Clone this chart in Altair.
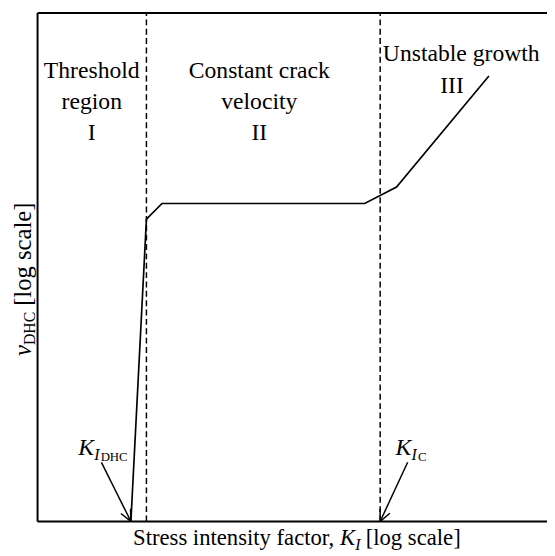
import altair as alt
import pandas as pd
import numpy as np

# Schematic DHC crack-velocity curve, log-log, arbitrary units (0-10 on both axes)
curve_k = [1.832, 2.137, 2.443, 6.422, 7.046, 8.859]
curve_v = [0.0, 5.944, 6.253, 6.253, 6.576, 8.762]

# Region boundaries: K_I,DHC and K_IC
boundary_k = [2.137, 6.725]

# Arrows pointing to K_I,DHC and K_IC on the axis
arrow_tail_k = [1.253, 7.265]
arrow_tail_v = [1.163, 1.163]
arrow_tip_k = [1.832, 6.725]
arrow_tip_v = [0.0, 0.0]

# Region annotation text
region_text = ["Threshold", "region", "I",
               "Constant crack", "velocity", "II",
               "Unstable growth", "III"]
region_k = [1.064, 1.064, 1.064, 4.352, 4.352, 4.352, 8.317, 8.135]
region_v = [8.723, 8.104, 7.505, 8.723, 8.104, 7.505, 9.052, 8.433]

FONT = "Liberation Serif, Times New Roman, serif"

xs = alt.Scale(domain=[0, 10], nice=False, zero=False)
ys = alt.Scale(domain=[0, 10], nice=False, zero=False)

hidden = alt.Axis(domain=False, ticks=False, labels=False, grid=False, title=None)
X = lambda f: alt.X(f, scale=xs, axis=hidden)
Y = lambda f: alt.Y(f, scale=ys, axis=hidden)

curve_df = pd.DataFrame({"k": curve_k, "v": curve_v})
curve = alt.Chart(curve_df).mark_line(color="black", strokeWidth=1.7).encode(
    x=X("k:Q"), y=Y("v:Q"),
)

bound_df = pd.DataFrame({"k": boundary_k, "v": [0, 0], "v2": [10, 10]})
bounds = alt.Chart(bound_df).mark_rule(
    color="black", strokeWidth=1.5, strokeDash=[6, 3.5]
).encode(x=X("k:Q"), y=Y("v:Q"), y2="v2:Q")

# Frame: left, bottom and top edges (the right edge lies outside the picture)
frame_df = pd.DataFrame({"k": [0, 0, 0], "v": [0, 0, 10],
                         "k2": [0, 10.5, 10.5], "v2": [10, 0, 10]})
frame = alt.Chart(frame_df).mark_rule(color="black", strokeWidth=2).encode(
    x=X("k:Q"), y=Y("v:Q"), x2="k2:Q", y2="v2:Q"
)

adf = pd.DataFrame({"k": arrow_tail_k, "v": arrow_tail_v,
                    "k2": arrow_tip_k, "v2": arrow_tip_v})
shafts = alt.Chart(adf).mark_rule(color="black", strokeWidth=1.5).encode(
    x=X("k:Q"), y=Y("v:Q"), x2="k2:Q", y2="v2:Q",
)

# open arrowheads: two short arms from each tip, +-25 deg about the shaft
arm_len = 0.25   # axis units (about equal px per unit on both axes)
half = np.radians(25)
rows = []
for tk, tv, hk, hv in zip(arrow_tail_k, arrow_tail_v, arrow_tip_k, arrow_tip_v):
    back = np.arctan2(tv - hv, tk - hk)
    for s in (-1, 1):
        a = back + s * half
        rows.append({"k": hk, "v": hv,
                     "k2": hk + arm_len * np.cos(a), "v2": hv + arm_len * np.sin(a)})
heads = alt.Chart(pd.DataFrame(rows)).mark_rule(color="black", strokeWidth=1.5).encode(
    x=X("k:Q"), y=Y("v:Q"), x2="k2:Q", y2="v2:Q"
)

rdf = pd.DataFrame({"t": region_text, "k": region_k, "v": region_v})
regions = alt.Chart(rdf).mark_text(
    font=FONT, fontSize=24, color="black", align="center", baseline="alphabetic"
).encode(x=X("k:Q"), y=Y("v:Q"), text="t:N")

def txt(t, k, v, size, style="normal", align="left", angle=0):
    return alt.Chart(pd.DataFrame({"t": [t], "k": [k], "v": [v]})).mark_text(
        font=FONT, fontSize=size, fontStyle=style, color="black", align=align,
        baseline="alphabetic", angle=angle
    ).encode(x=X("k:Q"), y=Y("v:Q"), text="t:N")

labels = [
    # K_I,DHC
    txt("K", 0.800, 1.298, 24, "italic"),
    txt("I", 1.112, 1.202, 16, "italic"),
    txt("DHC", 1.238, 1.182, 13),
    # K_IC
    txt("K", 7.028, 1.298, 24, "italic"),
    txt("I", 7.340, 1.202, 16, "italic"),
    txt("C", 7.466, 1.182, 13),
    # x title
    txt("Stress intensity factor,", 5.822, -0.464, 23, align="right"),
    txt("K", 5.938, -0.464, 23, "italic"),
    txt("I", 6.238, -0.561, 16, "italic"),
    txt("[log scale]", 6.441, -0.464, 23),
    # y title (rotated)
    txt("v", -0.135, 3.255, 25, "italic", angle=270),
    txt("DHC", -0.058, 3.468, 16, angle=270),
    txt("[log scale]", -0.135, 4.240, 25, angle=270),
]

chart = alt.layer(curve, bounds, frame, shafts, heads, regions, *labels).properties(
    width=517, height=516,
    autosize=alt.AutoSizeParams(type="none"),
    padding={"left": 30, "top": 1, "right": 0, "bottom": 31},
    background="white",
).configure_view(stroke=None)

chart.save("out.html", embed_options={"renderer": "svg", "actions": False})
